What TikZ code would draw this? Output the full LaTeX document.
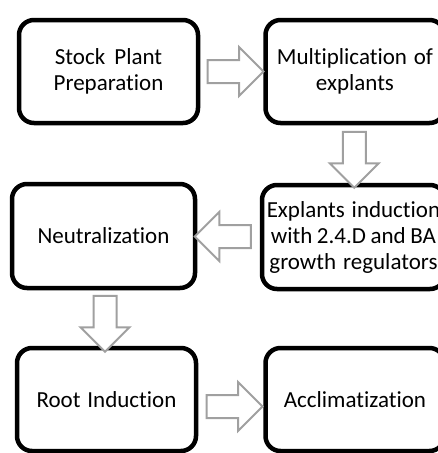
\documentclass[tikz,border=0pt]{standalone}
\usepackage{fontspec}
\setmainfont{Carlito}[Ligatures={NoCommon}]
\usetikzlibrary{shapes.arrows,calc}
\definecolor{arrowgray}{HTML}{A0A0A0}
\begin{document}
\begin{tikzpicture}[x=1pt,y=-1pt,
  stepbox/.style={draw=black, line width=4.5pt, rounded corners=15pt,
    minimum width=179pt, minimum height=103pt, align=center,
    font=\fontsize{23}{26}\selectfont, inner sep=0pt},
  barrow/.style={single arrow, draw=arrowgray, fill=white, line width=2pt,
    inner xsep=0pt, inner ysep=10.5pt, minimum height=56pt,
    single arrow head extend=13pt}]
\useasboundingbox (0,0) rectangle (438,453);
\fill[white] (0,0) rectangle (438,453);
\clip (0,0) rectangle (438,453);

\node[stepbox] (b1) at (108.5,71.5) {Stock\hspace{0.4em}Plant\\Preparation};
\node[stepbox] (b2) at (355,71.5) {Multiplication\hspace{0.3em}of\\explants};
\node[stepbox, minimum width=183pt, minimum height=104pt] (b3) at (103.5,236) {Neutralization};
\node[stepbox, minimum width=183pt, minimum height=104pt] (b4) at (353.5,237) {Explants\hspace{0.3em}induction\\with\hspace{0.2em}2.4.D\hspace{0.2em}and\hspace{0.2em}BA\\growth\hspace{0.3em}regulators};
\node[stepbox] (b5) at (106.5,399.5) {Root\hspace{0.3em}Induction};
\node[stepbox] (b6) at (355,399.5) {Acclimatization};

\node[barrow, xshift=-2pt] (a1) at ($(b1.east)!0.5!(b2.west)$) {};
\node[barrow, rotate=-90] (a2) at ($(b2.south)!0.5!(b4.north)$) {};
\node[barrow, rotate=180] (a3) at ($(b4.west)!0.5!(b3.east)$) {};
\node[barrow, rotate=-90] (a4) at ($(b3.south)!0.5!(b5.north)$) {};
\node[barrow, xshift=-2pt, yshift=-7pt] (a5) at ($(b5.east)!0.5!(b6.west)$) {};
\end{tikzpicture}
\end{document}
